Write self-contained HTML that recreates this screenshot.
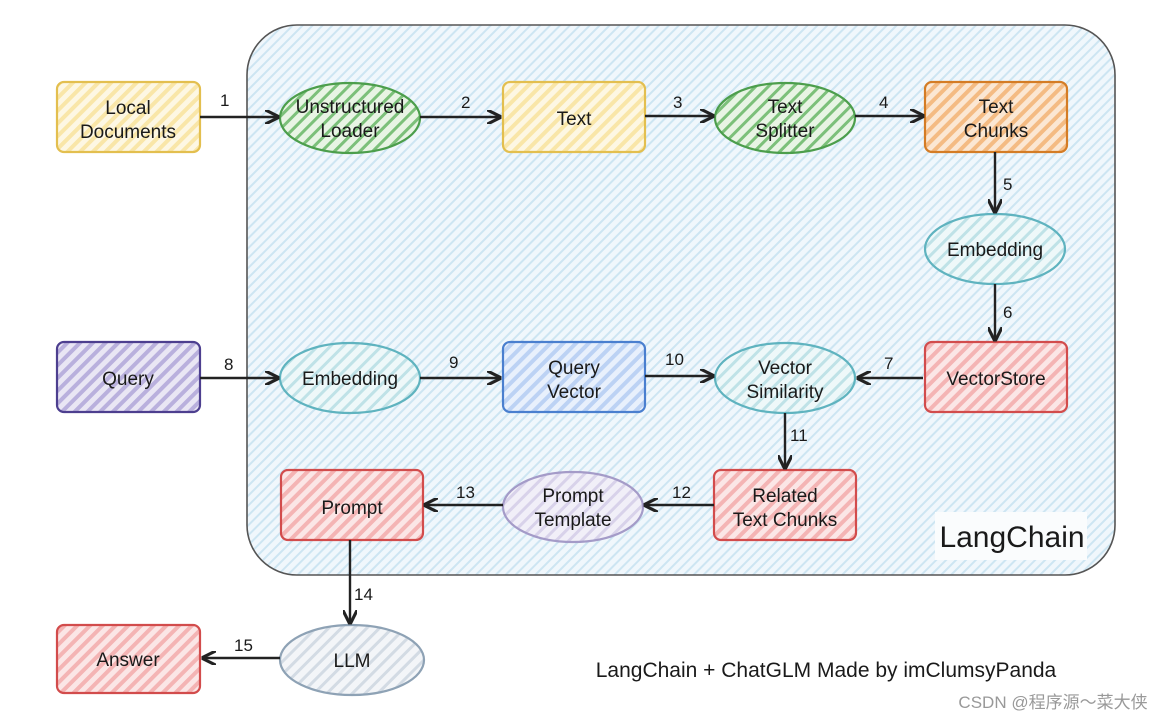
<!DOCTYPE html>
<html><head><meta charset="utf-8"><style>
html,body{margin:0;padding:0;background:#fff;}
svg{display:block;}
text{font-family:"Liberation Sans","DejaVu Sans",sans-serif;font-size:19px;fill:#1a1a1a;text-anchor:middle;}
.n{font-size:17px;text-anchor:start;}
</style></head><body>
<svg width="1176" height="721" viewBox="0 0 1176 721" xmlns="http://www.w3.org/2000/svg">
<defs>
<marker id="a" viewBox="0 0 10 10" refX="9" refY="5" markerWidth="6" markerHeight="6" orient="auto"><path d="M0,0 L10,5 L0,10" fill="none" stroke="#222" stroke-width="2.2"/></marker>
<pattern id="hb" width="7" height="7" patternUnits="userSpaceOnUse" patternTransform="rotate(45)"><rect width="7" height="7" fill="#f0f7fc"/><rect width="2" height="7" fill="#cde5f2"/></pattern>
<pattern id="hy" width="9" height="9" patternUnits="userSpaceOnUse" patternTransform="rotate(45)"><rect width="9" height="9" fill="#fdf7e3"/><rect width="4" height="9" fill="#f9e6a8"/></pattern>
<pattern id="hg" width="9" height="9" patternUnits="userSpaceOnUse" patternTransform="rotate(45)"><rect width="9" height="9" fill="#e8f4e4"/><rect width="3" height="9" fill="#7cc07a"/></pattern>
<pattern id="ho" width="9" height="9" patternUnits="userSpaceOnUse" patternTransform="rotate(45)"><rect width="9" height="9" fill="#fbe7d3"/><rect width="4" height="9" fill="#f4bb83"/></pattern>
<pattern id="ht" width="9" height="9" patternUnits="userSpaceOnUse" patternTransform="rotate(45)"><rect width="9" height="9" fill="#eef8f9"/><rect width="3" height="9" fill="#bfe2e7"/></pattern>
<pattern id="hr" width="9" height="9" patternUnits="userSpaceOnUse" patternTransform="rotate(45)"><rect width="9" height="9" fill="#fbe6e6"/><rect width="4" height="9" fill="#f4b4b4"/></pattern>
<pattern id="hp" width="9" height="9" patternUnits="userSpaceOnUse" patternTransform="rotate(45)"><rect width="9" height="9" fill="#e9e6f4"/><rect width="4" height="9" fill="#b9b0dd"/></pattern>
<pattern id="hu" width="9" height="9" patternUnits="userSpaceOnUse" patternTransform="rotate(45)"><rect width="9" height="9" fill="#e8f0fc"/><rect width="4" height="9" fill="#bcd2f4"/></pattern>
<pattern id="hl" width="9" height="9" patternUnits="userSpaceOnUse" patternTransform="rotate(45)"><rect width="9" height="9" fill="#f1eff8"/><rect width="3" height="9" fill="#d8d2ea"/></pattern>
<pattern id="hx" width="9" height="9" patternUnits="userSpaceOnUse" patternTransform="rotate(45)"><rect width="9" height="9" fill="#f3f5f8"/><rect width="3" height="9" fill="#d3dbe4"/></pattern>
</defs>
<rect x="247" y="25" width="868" height="550" rx="50" fill="url(#hb)" stroke="#555" stroke-width="1.6"/>
<rect x="935" y="512" width="152" height="48" fill="#fafcfd"/>
<text x="1012" y="547" style="font-size:30px">LangChain</text>

<g stroke-width="2.2">
<rect x="57" y="82" width="143" height="70" rx="7" fill="url(#hy)" stroke="#e3bf4f"/>
<ellipse cx="350" cy="118" rx="70" ry="35" fill="url(#hg)" stroke="#4c9e4c"/>
<rect x="503" y="82" width="142" height="70" rx="7" fill="url(#hy)" stroke="#e3bf4f"/>
<ellipse cx="785" cy="118" rx="70" ry="35" fill="url(#hg)" stroke="#4c9e4c"/>
<rect x="925" y="82" width="142" height="70" rx="7" fill="url(#ho)" stroke="#d47c25"/>
<ellipse cx="995" cy="249" rx="70" ry="35" fill="url(#ht)" stroke="#5fb3bf"/>
<rect x="925" y="342" width="142" height="70" rx="7" fill="url(#hr)" stroke="#d24c4c"/>
<rect x="57" y="342" width="143" height="70" rx="7" fill="url(#hp)" stroke="#4d3f8f"/>
<ellipse cx="350" cy="378" rx="70" ry="35" fill="url(#ht)" stroke="#5fb3bf"/>
<rect x="503" y="342" width="142" height="70" rx="7" fill="url(#hu)" stroke="#4a7fcf"/>
<ellipse cx="785" cy="378" rx="70" ry="35" fill="url(#ht)" stroke="#5fb3bf"/>
<rect x="714" y="470" width="142" height="70" rx="7" fill="url(#hr)" stroke="#d24c4c"/>
<ellipse cx="573" cy="507" rx="70" ry="35" fill="url(#hl)" stroke="#a49bc8"/>
<rect x="281" y="470" width="142" height="70" rx="7" fill="url(#hr)" stroke="#d24c4c"/>
<ellipse cx="352" cy="660" rx="72" ry="35" fill="url(#hx)" stroke="#8ea2b5"/>
<rect x="57" y="625" width="143" height="68" rx="7" fill="url(#hr)" stroke="#d24c4c"/>
</g>

<g stroke="#222" stroke-width="2.4" fill="none" marker-end="url(#a)">
<path d="M200,117 L278,117"/>
<path d="M420,117 L500,117"/>
<path d="M645,116 L713,116"/>
<path d="M855,116 L923,116"/>
<path d="M995,152 L995,212"/>
<path d="M995,284 L995,340"/>
<path d="M923,378 L858,378"/>
<path d="M200,378 L278,378"/>
<path d="M420,378 L500,378"/>
<path d="M645,376 L713,376"/>
<path d="M785,413 L785,468"/>
<path d="M714,505 L645,505"/>
<path d="M503,505 L425,505"/>
<path d="M350,540 L350,623"/>
<path d="M280,658 L203,658"/>
</g>

<text class="n" x="220" y="106">1</text>
<text class="n" x="461" y="108">2</text>
<text class="n" x="673" y="108">3</text>
<text class="n" x="879" y="108">4</text>
<text class="n" x="1003" y="190">5</text>
<text class="n" x="1003" y="318">6</text>
<text class="n" x="884" y="369">7</text>
<text class="n" x="224" y="370">8</text>
<text class="n" x="449" y="368">9</text>
<text class="n" x="665" y="365">10</text>
<text class="n" x="790" y="441">11</text>
<text class="n" x="672" y="498">12</text>
<text class="n" x="456" y="498">13</text>
<text class="n" x="354" y="600">14</text>
<text class="n" x="234" y="651">15</text>

<text x="128" y="114">Local</text><text x="128" y="138">Documents</text>
<text x="350" y="113">Unstructured</text><text x="350" y="137">Loader</text>
<text x="574" y="125">Text</text>
<text x="785" y="113">Text</text><text x="785" y="137">Splitter</text>
<text x="996" y="113">Text</text><text x="996" y="137">Chunks</text>
<text x="995" y="256">Embedding</text>
<text x="996" y="385">VectorStore</text>
<text x="128" y="385">Query</text>
<text x="350" y="385">Embedding</text>
<text x="574" y="374">Query</text><text x="574" y="398">Vector</text>
<text x="785" y="374">Vector</text><text x="785" y="398">Similarity</text>
<text x="785" y="502">Related</text><text x="785" y="526">Text Chunks</text>
<text x="573" y="502">Prompt</text><text x="573" y="526">Template</text>
<text x="352" y="514">Prompt</text>
<text x="352" y="667">LLM</text>
<text x="128" y="666">Answer</text>

<text x="826" y="677" style="font-size:21px">LangChain + ChatGLM Made by imClumsyPanda</text>
<text x="1053" y="708" style="font-size:17px;fill:#999;font-family:'Liberation Sans','Noto Sans CJK SC',sans-serif">CSDN @程序源～菜大侠</text>
</svg>
</body></html>
